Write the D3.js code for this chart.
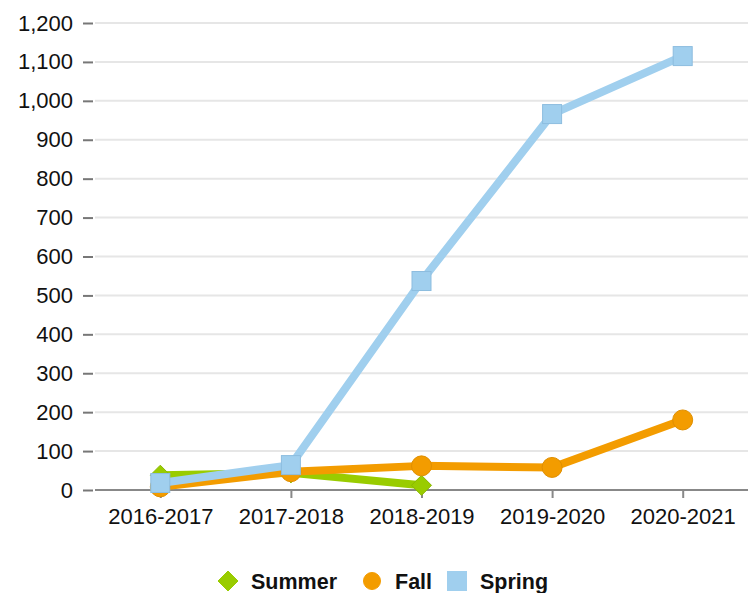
<!DOCTYPE html>
<html>
<head>
<meta charset="utf-8">
<script src="https://cdn.jsdelivr.net/npm/d3@7"></script>
<style>
  body { margin: 0; background: #fff; }
  text { font-family: "Liberation Sans", Arial, sans-serif; }
</style>
</head>
<body>
<div id="chart"></div>
<script>
// data
var years = ["2016-2017", "2017-2018", "2018-2019", "2019-2020", "2020-2021"];
var summer = [38, 44, 12];
var fall = [8, 47, 62, 58, 180];
var spring = [18, 64, 537, 966, 1115];
var yTicks = [0, 100, 200, 300, 400, 500, 600, 700, 800, 900, 1000, 1100, 1200];

var series = [
  { name: "Summer", values: summer, color: "#99cc00", stroke: "#8ab800", shape: "diamond" },
  { name: "Fall", values: fall, color: "#f39c00", stroke: "#e08f00", shape: "circle" },
  { name: "Spring", values: spring, color: "#a0cfee", stroke: "#8dbddf", shape: "square" }
];

var svg_w = 754, svg_h = 593;
var plotLeft = 95, plotRight = 748, plotTop = 23, plotBottom = 490;

var svg = d3.select("#chart").append("svg")
  .attr("width", svg_w)
  .attr("height", svg_h);

var x = d3.scalePoint().domain(years).range([plotLeft, plotRight]).padding(0.5);
var y = d3.scaleLinear().domain([0, 1200]).range([plotBottom, plotTop]);

// gridlines
svg.append("g").selectAll("line")
  .data(yTicks.slice(1))
  .enter().append("line")
  .attr("x1", plotLeft).attr("x2", plotRight)
  .attr("y1", function(d) { return y(d); })
  .attr("y2", function(d) { return y(d); })
  .attr("stroke", "#e6e6e6")
  .attr("stroke-width", 2);

// y axis
var yAxis = d3.axisLeft(y).tickValues(yTicks).tickSize(10).tickPadding(10)
  .tickFormat(d3.format(","));
var gy = svg.append("g").attr("transform", "translate(" + (plotLeft - 2) + ",0)").call(yAxis);
gy.select(".domain").remove();
gy.selectAll(".tick line").attr("stroke", "#777").attr("stroke-width", 2);
gy.selectAll("text").attr("font-size", 22).attr("fill", "#111");

// x axis
var xAxis = d3.axisBottom(x).tickSize(8).tickPadding(10);
var gx = svg.append("g").attr("transform", "translate(0," + plotBottom + ")").call(xAxis);
gx.select(".domain").attr("stroke", "#888").attr("stroke-width", 2)
  .attr("d", "M" + plotLeft + ",0H" + plotRight);
gx.selectAll(".tick line").attr("stroke", "#888").attr("stroke-width", 2);
gx.selectAll("text").attr("font-size", 22).attr("fill", "#111");

var line = d3.line()
  .x(function(d, i) { return x(years[i]); })
  .y(function(d) { return y(d); });

function drawMarker(g, shape, cx, cy, color, stroke, s) {
  if (shape == "circle") {
    g.append("circle").attr("cx", cx).attr("cy", cy).attr("r", 10 * s)
      .attr("fill", color).attr("stroke", stroke).attr("stroke-width", 1);
  } else if (shape == "square") {
    var h = 9.5 * s;
    g.append("rect").attr("x", cx - h).attr("y", cy - h).attr("width", 2 * h).attr("height", 2 * h)
      .attr("fill", color).attr("stroke", stroke).attr("stroke-width", 1);
  } else {
    var r = 10 * s;
    g.append("path")
      .attr("d", "M" + cx + "," + (cy - r) + "L" + (cx + r) + "," + cy + "L" + cx + "," + (cy + r) + "L" + (cx - r) + "," + cy + "Z")
      .attr("fill", color).attr("stroke", stroke).attr("stroke-width", 1);
  }
}

series.forEach(function(s) {
  var g = svg.append("g");
  g.append("path")
    .datum(s.values)
    .attr("d", line)
    .attr("fill", "none")
    .attr("stroke", s.color)
    .attr("stroke-width", 8)
    .attr("stroke-linejoin", "round");
  s.values.forEach(function(v, i) {
    drawMarker(g, s.shape, x(years[i]), y(v), s.color, s.stroke, 1);
  });
});

// legend
var legendPos = [228, 372, 457];
var lg = svg.append("g");
series.forEach(function(s, i) {
  drawMarker(lg, s.shape, legendPos[i], 581, s.color, s.color, s.shape == "circle" ? 0.85 : 1);
  lg.append("text")
    .attr("x", legendPos[i] + 23)
    .attr("y", 581)
    .attr("dy", "0.35em")
    .attr("font-size", 21.5)
    .attr("font-weight", "bold")
    .attr("fill", "#111")
    .text(s.name);
});
</script>
</body>
</html>
